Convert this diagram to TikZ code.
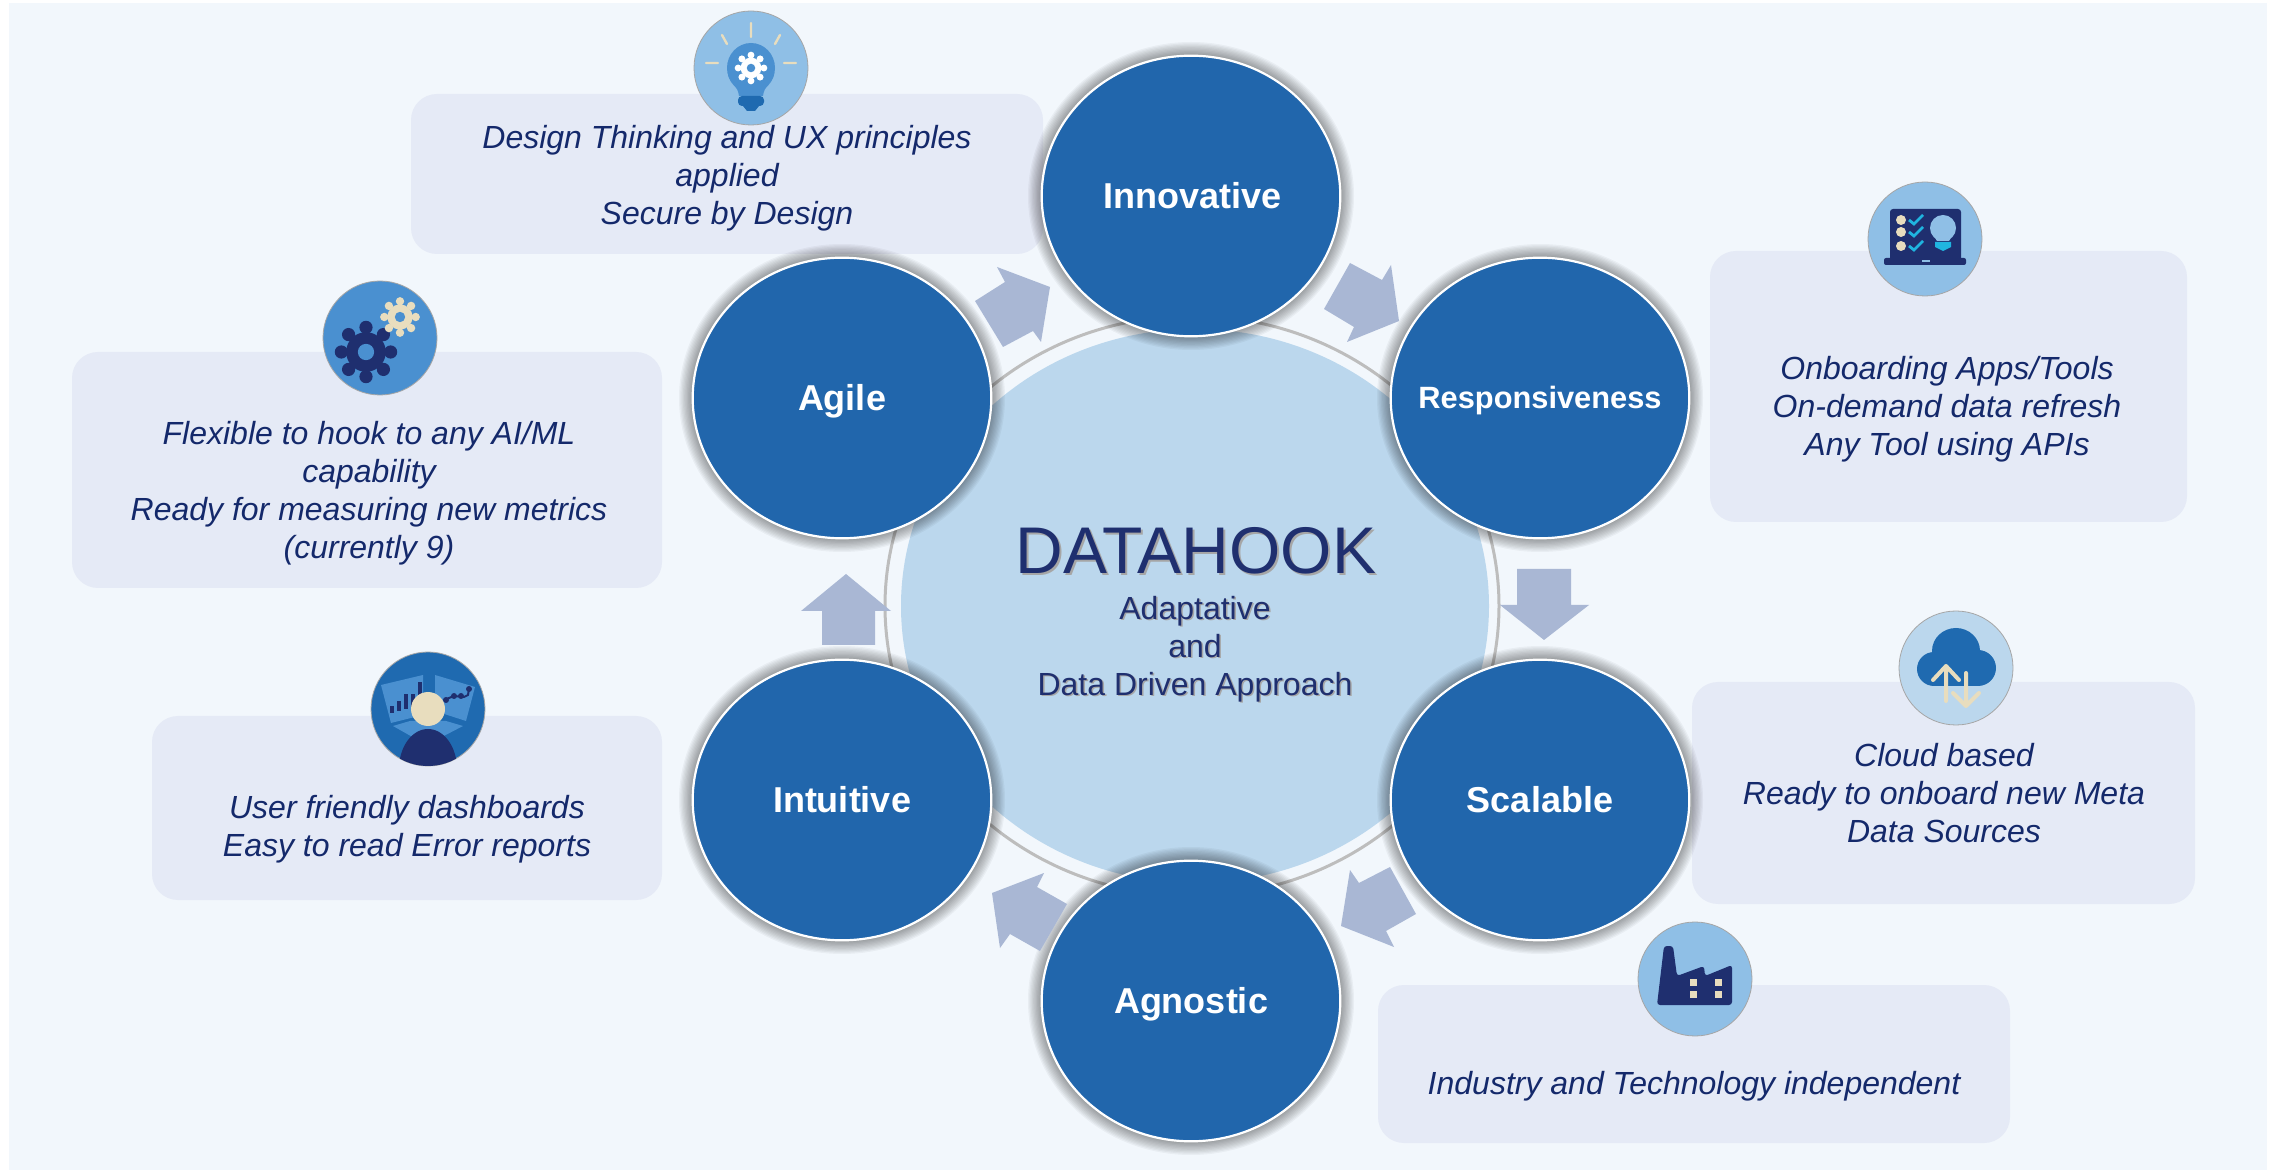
\documentclass[tikz,border=0pt]{standalone}
\usepackage{fontspec}
\setmainfont{Liberation Sans}
\usetikzlibrary{calc,shapes.geometric}
\definecolor{bgc}{HTML}{F2F7FC}
\definecolor{boxc}{HTML}{E5EAF6}
\definecolor{hubc}{HTML}{BBD7ED}
\definecolor{ringc}{HTML}{BDBDBD}
\definecolor{nodec}{HTML}{2166AC}
\definecolor{arrowc}{HTML}{A9B7D4}
\definecolor{navy}{HTML}{1F2F6F}
\definecolor{inkc}{HTML}{14296B}
\definecolor{skyc}{HTML}{8FBFE6}
\definecolor{midc}{HTML}{4A90D0}
\definecolor{deepc}{HTML}{1F6AB0}
\definecolor{creamc}{HTML}{E8DDBE}
\definecolor{cyanc}{HTML}{1FB5E0}
\newcommand{\fsize}[2]{\fontsize{#1}{#2}\selectfont}
\tikzset{
  x=0.5pt,y=-0.5pt,
  notebox/.style={fill=boxc,rounded corners=13pt},
  notetext/.style={text=inkc,align=center,font=\fsize{16}{19}\itshape},
  keylabel/.style={text=white,font=\fsize{18}{21}\bfseries},
  flowarrow/.style={fill=arrowc},
  iconring/.style={draw=gray!70,line width=0.4pt},
  hubtext/.style={text=navy,align=center},
}
\newcommand{\keycircle}[3]{%
  \foreach \k in {1,...,10}{%
    \fill[black,opacity=0.04] (#1,#2) ellipse [x radius={(150+(11-\k)*1.3)*0.5pt},y radius={(141+(11-\k)*1.3)*0.5pt}];
  }%
  \node[ellipse,minimum width=149.3pt,minimum height=140.3pt,inner sep=0pt,fill=nodec,draw=white,line width=1.1pt] (#3) at (#1,#2) {};
}
\newcommand{\icondisc}[4]{\node[circle,minimum size=57pt,inner sep=0pt,fill=#4,iconring] (#3) at (#1,#2) {};}
\newcommand{\gearshape}[5]{% cx cy radius colour holecolour
  \foreach \a in {0,45,...,315}{%
    \fill[#4] ($(#1,#2)+(\a:#3*1.12)$) circle [radius=#3*0.30];
  }
  \fill[#4] (#1,#2) circle [radius=#3*0.90];
  \fill[#5] (#1,#2) circle [radius=#3*0.37];
}
\begin{document}
\begin{tikzpicture}
\useasboundingbox (0,0) rectangle (2272,1170);
\fill[white] (0,0) rectangle (2272,1170);
\fill[bgc] (9,3) rectangle (2267,1170);

% note boxes
\fill[notebox] (411,94) rectangle (1043,254);
\fill[notebox] (72,352) rectangle (662,588);
\fill[notebox] (152,716) rectangle (662,900);
\fill[notebox] (1710,251) rectangle (2187,522);
\fill[notebox] (1692,682) rectangle (2195,904);
\fill[notebox] (1378,985) rectangle (2010,1143);

% hub
\draw[ringc,line width=1.5pt] (1192,606) ellipse [x radius=153.5pt,y radius=145pt];
\node[ellipse,minimum width=294pt,minimum height=277pt,inner sep=0pt,fill=hubc] (hub) at (1195,606) {};

% key circles
\keycircle{1191}{196}{innovative}
\keycircle{1540}{398}{responsive}
\keycircle{1540}{800}{scalable}
\keycircle{1191}{1001}{agnostic}
\keycircle{842}{800}{intuitive}
\keycircle{842}{398}{agile}
\node[keylabel,xshift=0.7pt] at (innovative) {Innovative};
\node[keylabel,font=\fsize{15.4}{18}\bfseries,yshift=-1.5pt] at (responsive) {Responsiveness};
\node[keylabel] at (scalable) {Scalable};
\node[keylabel,yshift=-1.5pt] at (agnostic) {Agnostic};
\node[keylabel] at (intuitive) {Intuitive};
\node[keylabel,yshift=-1.5pt] at (agile) {Agile};

% flow arrows
\fill[flowarrow] (1517,569) -- (1571,569) -- (1571,605) -- (1589,605) -- (1544,640) -- (1500,605) -- (1517,605) -- cycle;
\fill[flowarrow] (1390,867) -- (1416,914) -- (1386,931) -- (1394,947) -- (1341,926) -- (1350,870) -- (1359,883) -- cycle;
\fill[flowarrow] (992,893) -- (1044,873) -- (1037,887) -- (1067,904) -- (1040,951) -- (1010,934) -- (1000,948) -- cycle;
\fill[flowarrow] (822,645) -- (875,645) -- (875,611) -- (891,611) -- (846,574) -- (801,611) -- (822,611) -- cycle;
\fill[flowarrow] (1050,287) -- (997,267) -- (1005,282) -- (975,301) -- (1003,347) -- (1033,331) -- (1041,342) -- cycle;
\fill[flowarrow] (1350,263) -- (1382,280) -- (1391,265) -- (1399,321) -- (1347,342) -- (1354,327) -- (1324,309) -- cycle;

% hub text
\node[hubtext,text=gray!70,font=\fsize{33}{38}] at (1198,553) {DATAHOOK};
\node[hubtext,font=\fsize{33}{38}] (title) at (1196,551) {DATAHOOK};
\node[hubtext,text=gray!70,font=\fsize{16}{19}] at (1196.5,650.5) {Adaptative\\and\\Data Driven Approach};
\node[hubtext,font=\fsize{16}{19}] (sub) at (1195,649) {Adaptative\\and\\Data Driven Approach};

% notes
\node[notetext] (n1) at (727,178) {Design Thinking and UX principles\\applied\\Secure by Design};
\node[notetext] (n2) at (369,493) {Flexible to hook to any AI/ML\\capability\\Ready for measuring new metrics\\(currently 9)};
\node[notetext] (n3) at (407,829) {User friendly dashboards\\Easy to read Error reports};
\node[notetext] (n4) at (1947,409) {Onboarding Apps/Tools\\On-demand data refresh\\Any Tool using APIs};
\node[notetext] (n5) at (1944,793) {Cloud based\\Ready to onboard new Meta\\Data Sources};
\node[notetext] (n6) at (1694,1086) {Industry and Technology independent};

% ---- icons ----
% bulb
\icondisc{751}{68}{bulb}{skyc}
\begin{scope}[shift={(751,68)}]
  \fill[midc] (0,0) ellipse [x radius=24, y radius=25];
  \fill[midc] (-23,7) .. controls (-20,16) and (-13,18) .. (-12,28) -- (12,28) .. controls (13,18) and (20,16) .. (23,7) -- cycle;
  \fill[deepc,rounded corners=2pt] (-13,28) rectangle (13,38);
  \fill[deepc] (-8,38) -- (8,38) -- (4,43) -- (-4,43) -- cycle;
  \gearshape{0}{0}{11.5}{white}{midc}
  \draw[creamc,line width=1.2pt,line cap=round] (-45,-5) -- (-33,-5) (33,-5) -- (45,-5) (-29,-33) -- (-24,-24) (29,-33) -- (24,-24) (0,-45) -- (0,-31);
\end{scope}
% gears
\icondisc{380}{338}{gears}{midc}
\begin{scope}[shift={(380,338)}]
  \gearshape{-14}{14}{22}{navy}{midc}
  \gearshape{20}{-21}{14}{creamc}{midc}
\end{scope}
% dashboard user
\icondisc{428}{709}{dash}{deepc}
\begin{scope}[shift={(428,709)}]
  \clip (0,0) circle [radius=57];
  \fill[midc] (-47,-24) -- (-5,-34) -- (-5,6) -- (-37,14) -- cycle;
  \fill[midc] (7,-34) -- (47,-22) -- (38,12) -- (7,2) -- cycle;
  \fill[midc] (-18,12) -- (18,12) -- (35,17) -- (10,30) -- (-12,30) -- (-35,17) -- cycle;
  \fill[navy] (-38,-3) rectangle (-34,4);
  \fill[navy] (-31,-8) rectangle (-27,2);
  \fill[navy] (-24,-15) rectangle (-20,0);
  \fill[navy] (-17,-15) rectangle (-13,-2);
  \fill[navy] (-10,-27) rectangle (-6,-2);
  \draw[navy,line width=1pt] (16,-9) -- (26,-13) -- (36,-12) -- (40,-14) -- (41,-20);
  \foreach \p in {(18,-9),(26,-13),(33,-13),(41,-20)} \fill[navy] \p circle [radius=3];
  \fill[creamc] (0,0) circle [radius=17];
  \fill[navy] (0,60) ellipse [x radius=29, y radius=40];
\end{scope}
% laptop
\icondisc{1925}{239}{laptop}{skyc}
\begin{scope}[shift={(1925,239)}]
  \fill[navy,rounded corners=1.5pt] (-35,-30) rectangle (36,22);
  \fill[navy,rounded corners=1pt] (-41,19) rectangle (41,26);
  \fill[skyc] (-3,21.5) rectangle (5,23);
  \foreach \yy in {-19,-7,7}{%
    \fill[creamc] (-24,\yy) circle [radius=5];
    \draw[cyanc,line width=1.4pt] (-16,\yy) -- (-11,{\yy+4}) -- (-2,{\yy-5});
  }
  \fill[skyc] (18,-11) circle [radius=13];
  \fill[skyc] (7,-6) -- (29,-6) -- (24,2) -- (12,2) -- cycle;
  \fill[cyanc] (10,3) -- (26,3) -- (26,8) -- (18,12) -- (10,8) -- cycle;
\end{scope}
% cloud
\icondisc{1956}{668}{cloud}{hubc}
\begin{scope}[shift={(1956,668)}]
  \fill[deepc] (0,-17) ellipse [x radius=24, y radius=23];
  \fill[deepc] (-22,1) circle [radius=17];
  \fill[deepc] (22,0) circle [radius=18];
  \fill[deepc] (-22,-5) rectangle (22,18);
  \draw[creamc,line width=2pt,line cap=round,line join=round] (-10,33) -- (-10,-2) (-23,12) -- (-10,-2) -- (3,12) (10,5) -- (10,38) (-3,25) -- (10,38) -- (23,25);
\end{scope}
% factory
\icondisc{1695}{979}{factory}{skyc}
\begin{scope}[shift={(1695,979)}]
  \fill[navy,rounded corners=1.5pt] (-38,26) -- (-31,-33) -- (-22,-33) -- (-18,-3) -- (9,-13) -- (10,-3) -- (37,-14) -- (37,26) -- cycle;
  \foreach \xx/\yy in {-2/3,-2/15,23/3,23/15}{\fill[creamc] ({\xx-3.5},{\yy-3.5}) rectangle ({\xx+3.5},{\yy+3.5});}
\end{scope}
\end{tikzpicture}
\end{document}
